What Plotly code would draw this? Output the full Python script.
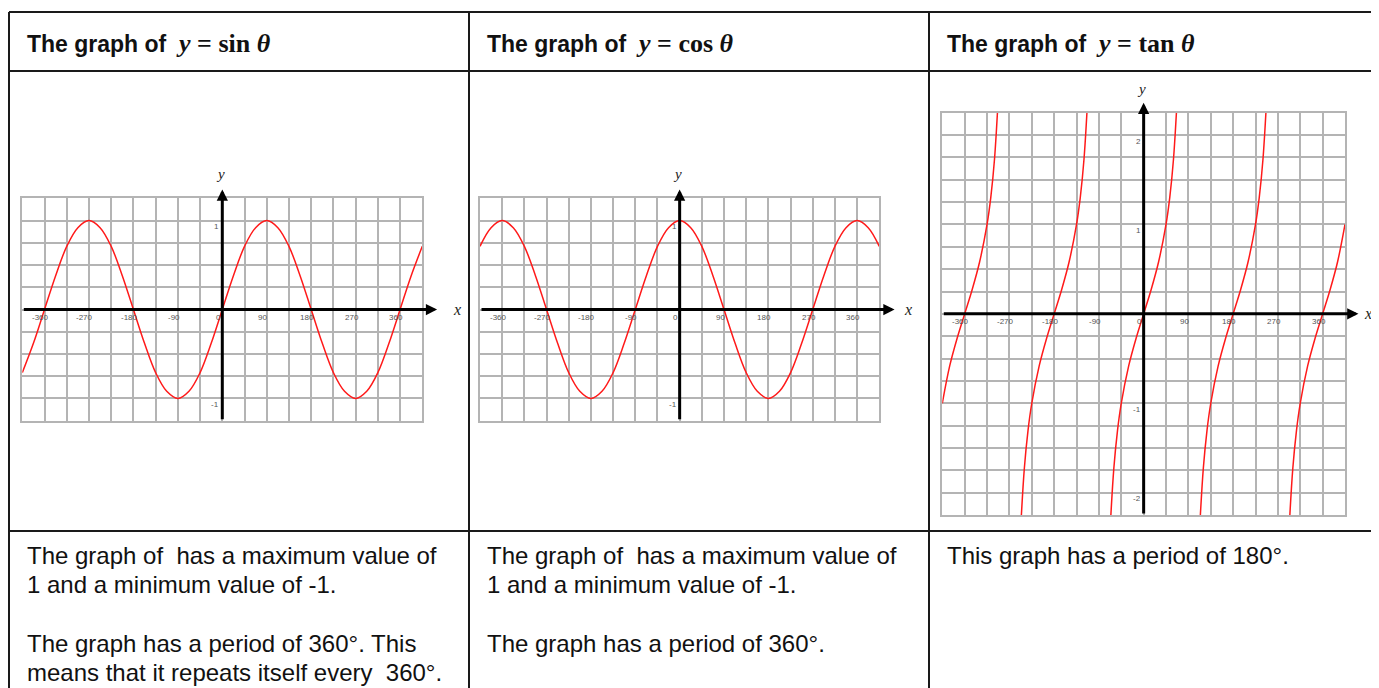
import plotly.graph_objects as go

# the page body keeps a default 8px margin, so the figure is drawn 8px smaller
# and every pixel position below is shifted by that amount
OFF = 8
W, H = 1379 - OFF, 688 - OFF

# angle samples (degrees) and the curve values
theta = [-405, -382.5, -360, -337.5, -315, -292.5, -270, -247.5, -225, -202.5,
         -180, -157.5, -135, -112.5, -90, -67.5, -45, -22.5, 0, 22.5, 45, 67.5,
         90, 112.5, 135, 157.5, 180, 202.5, 225, 247.5, 270, 292.5, 315, 337.5,
         360, 382.5, 405]
sin_vals = [-0.71, -0.38, 0, 0.38, 0.71, 0.92, 1, 0.92, 0.71, 0.38,
            0, -0.38, -0.71, -0.92, -1, -0.92, -0.71, -0.38, 0, 0.38, 0.71, 0.92,
            1, 0.92, 0.71, 0.38, 0, -0.38, -0.71, -0.92, -1, -0.92, -0.71, -0.38,
            0, 0.38, 0.71]
cos_vals = [0.71, 0.92, 1, 0.92, 0.71, 0.38, 0, -0.38, -0.71, -0.92,
            -1, -0.92, -0.71, -0.38, 0, 0.38, 0.71, 0.92, 1, 0.92, 0.71, 0.38,
            0, -0.38, -0.71, -0.92, -1, -0.92, -0.71, -0.38, 0, 0.38, 0.71, 0.92,
            1, 0.92, 0.71]

# tan: one branch shape, repeated around each zero crossing
tan_offsets = [-67.5, -60, -52.5, -45, -30, -15, 0, 15, 30, 45, 52.5, 60, 67.5]
tan_branch = [-2.41, -1.73, -1.30, -1.0, -0.58, -0.27, 0, 0.27, 0.58, 1.0, 1.30, 1.73, 2.41]
tan_centres = [-360, -180, 0, 180, 360]

x_ticks = [-360, -270, -180, -90, 0, 90, 180, 270, 360]
trig_y_ticks = [1, -1]
tan_y_ticks = [2, 1, -1, -2]

headers = ["sin", "cos", "tan"]
notes = [
    ["The graph of &nbsp;has a maximum value of", "1 and a minimum value of -1.", "",
     "The graph has a period of 360°. This", "means that it repeats itself every &nbsp;360°."],
    ["The graph of &nbsp;has a maximum value of", "1 and a minimum value of -1.", "",
     "The graph has a period of 360°."],
    ["This graph has a period of 180°."],
]

GRID = "#b4b4b4"
RED = "#ff1a1a"
SANS = "Liberation Sans, Arial, sans-serif"
SERIF = "Liberation Serif, serif"


def px_x(v):
    return (v - OFF) / W


def px_y(v):
    return 1 - (v - OFF) / H


tan_x, tan_y = [], []
for c in tan_centres:
    for o, v in zip(tan_offsets, tan_branch):
        if -405 <= c + o <= 405:
            tan_x.append(c + o)
            tan_y.append(v)
    tan_x.append(None)
    tan_y.append(None)

# panel boxes in pixels: (left, right, top, bottom), y half-range, arrow tips
panels = [
    dict(box=(22.3, 422.3, 198.3, 420.7), yh=1.25, x=theta, y=sin_vals, yt=trig_y_ticks, xtip=435, ytip=1.35),
    dict(box=(480.0, 879.3, 198.3, 420.7), yh=1.25, x=theta, y=cos_vals, yt=trig_y_ticks, xtip=436, ytip=1.35),
    dict(box=(942.3, 1345.0, 112.7, 515.0), yh=2.25, x=tan_x, y=tan_y, yt=tan_y_ticks, xtip=432, ytip=2.36),
]

fig = go.Figure()
annotations = []
layout_axes = {}

for i, p in enumerate(panels):
    s = "" if i == 0 else str(i + 1)
    l, r, t, b = p["box"]
    yh = p["yh"]
    layout_axes["xaxis" + s] = dict(
        domain=[px_x(l), px_x(r)], range=[-405, 405], tick0=0, dtick=45,
        showgrid=True, gridcolor=GRID, gridwidth=1.5, zeroline=False,
        showticklabels=False, ticks="", showline=True, mirror=True,
        linecolor=GRID, linewidth=1.5, fixedrange=True, anchor="y" + s,
    )
    layout_axes["yaxis" + s] = dict(
        domain=[px_y(b), px_y(t)], range=[-yh, yh], tick0=0, dtick=0.25,
        showgrid=True, gridcolor=GRID, gridwidth=1.5, zeroline=False,
        showticklabels=False, ticks="", showline=True, mirror=True,
        linecolor=GRID, linewidth=1.5, fixedrange=True, anchor="x" + s,
    )
    fig.add_trace(go.Scatter(
        x=p["x"], y=p["y"], mode="lines", line=dict(color=RED, width=1.5, shape="spline"),
        xaxis="x" + s, yaxis="y" + s, hoverinfo="skip",
    ))

    ref = dict(xref="x" + s, yref="y" + s)
    # axes with arrow heads
    annotations.append(dict(x=p["xtip"], y=0, ax=-405, ay=0, axref="x" + s, ayref="y" + s,
                            text="", showarrow=True, arrowhead=2, arrowsize=0.75,
                            arrowwidth=3, arrowcolor="black", standoff=0, **ref))
    annotations.append(dict(x=0, y=p["ytip"], ax=0, ay=-yh, axref="x" + s, ayref="y" + s,
                            text="", showarrow=True, arrowhead=2, arrowsize=0.75,
                            arrowwidth=3, arrowcolor="black", standoff=0, **ref))
    # axis names (x label sits just right of the arrow tip)
    annotations.append(dict(x=px_x(r + 29), y=0, xref="paper", yref="y" + s,
                            text="<i>x</i>", showarrow=False,
                            font=dict(family=SERIF, size=16, color="#222")))
    annotations.append(dict(x=0, y=yh, text="<i>y</i>", showarrow=False, yshift=24, xshift=-2,
                            font=dict(family=SERIF, size=15, color="#222"), **ref))
    # small tick labels sitting on the axes
    for tv in x_ticks:
        annotations.append(dict(x=tv, y=0, text=str(tv), showarrow=False, xshift=-4, yshift=-8,
                                font=dict(family=SANS, size=8, color="#555"), **ref))
    for tv in p["yt"]:
        annotations.append(dict(x=0, y=tv, text=str(tv), showarrow=False, xanchor="right",
                                xshift=-1, yshift=-6,
                                font=dict(family=SANS, size=8, color="#555"), **ref))

# table text
col_left = [25, 485, 945]
for i, fn in enumerate(headers):
    annotations.append(dict(
        x=px_x(col_left[i]), y=px_y(43), xref="paper", yref="paper", xanchor="left",
        yanchor="middle", showarrow=False,
        text=("<b>The graph of&nbsp; <span style='font-family:Liberation Serif;font-size:26px'>"
              "<i>y</i> = " + fn + "&nbsp;<i>θ</i></span></b>"),
        font=dict(family=SANS, size=23, color="#111"),
    ))
line_y = [555, 584.5, 614, 643, 672]
for i, lines in enumerate(notes):
    for j, txt in enumerate(lines):
        if not txt:
            continue
        annotations.append(dict(
            x=px_x(col_left[i]), y=px_y(line_y[j]), xref="paper", yref="paper",
            xanchor="left", yanchor="middle", showarrow=False, text=txt,
            font=dict(family=SANS, size=24, color="#111"),
        ))

# table borders
shapes = []
for yy in [12, 71, 531]:
    shapes.append(dict(type="line", xref="paper", yref="paper", x0=px_x(9), x1=1,
                       y0=px_y(yy), y1=px_y(yy), line=dict(color="#1a1a1a", width=2)))
for xx in [9, 469, 929]:
    shapes.append(dict(type="line", xref="paper", yref="paper", x0=px_x(xx), x1=px_x(xx),
                       y0=px_y(12), y1=0, line=dict(color="#1a1a1a", width=2)))

fig.update_layout(
    width=W, height=H, margin=dict(l=0, r=0, t=0, b=0),
    paper_bgcolor="white", plot_bgcolor="white", showlegend=False,
    annotations=annotations, shapes=shapes, **layout_axes,
)

fig.write_html("out.html")
